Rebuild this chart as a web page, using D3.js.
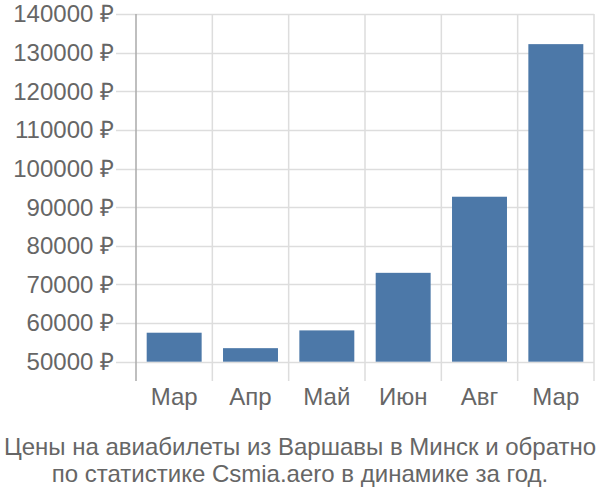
<!DOCTYPE html>
<html><head><meta charset="utf-8">
<script src="https://cdn.jsdelivr.net/npm/d3@7"></script>
<style>body{margin:0;background:#fff;}svg{display:block;font-family:"Liberation Sans",Arial,sans-serif;}</style>
</head><body>
<svg id="c" width="600" height="500"></svg>
<script>
const categories = ["Мар","Апр","Май","Июн","Авг","Мар"];
const values = [57500, 53500, 58100, 73000, 92700, 132200];
const yTicks = [50000,60000,70000,80000,90000,100000,110000,120000,130000,140000];
const titleLines = ["Цены на авиабилеты из Варшавы в Минск и обратно","по статистике Csmia.aero в динамике за год."];

(function(){
const svg = d3.select("#c");
const mL = 136, mR = 594, mT = 14, mB = 381;
const x = d3.scaleBand().domain(d3.range(categories.length)).range([mL, mR]).paddingInner(0.28).paddingOuter(0.14);
const y = d3.scaleLinear().domain([45000, 140000]).range([mB, mT]);
const textColor = "#666";
const fs = 24;

svg.append("g").selectAll("line").data(yTicks).join("line")
  .attr("x1", mL - 20).attr("x2", mR)
  .attr("y1", d => Math.round(y(d)) + 0.5).attr("y2", d => Math.round(y(d)) + 0.5)
  .attr("stroke", "#ddd").attr("stroke-width", 1.5);

const bounds = d3.range(categories.length + 1).map(i => mL + i * x.step());
svg.append("g").selectAll("line").data(bounds.slice(1)).join("line")
  .attr("x1", d => d).attr("x2", d => d)
  .attr("y1", mT).attr("y2", mB)
  .attr("stroke", "#ddd").attr("stroke-width", 1.5);

svg.append("line").attr("x1", mL).attr("x2", mL).attr("y1", mT).attr("y2", mB)
  .attr("stroke", "#aaa").attr("stroke-width", 1.5);

svg.append("g").selectAll("text").data(yTicks).join("text")
  .attr("x", 114).attr("y", d => y(d)).attr("dy", "0.35em")
  .attr("text-anchor", "end").attr("fill", textColor).attr("font-size", fs)
  .text(d => d + " ₽");

svg.append("g").selectAll("rect").data(values).join("rect")
  .attr("x", (d, i) => x(i)).attr("width", x.bandwidth())
  .attr("y", d => y(d)).attr("height", d => y(50000) - y(d))
  .attr("fill", "#4c78a8");

svg.append("g").selectAll("text").data(categories).join("text")
  .attr("x", (d, i) => x(i) + x.bandwidth() / 2).attr("y", 397).attr("dy", "0.35em")
  .attr("text-anchor", "middle").attr("fill", textColor).attr("font-size", fs)
  .text(d => d);

svg.append("g").selectAll("text").data(titleLines).join("text")
  .attr("x", 300).attr("y", (d, i) => 447 + i * 27).attr("dy", "0.35em")
  .attr("text-anchor", "middle").attr("fill", textColor).attr("font-size", fs)
  .text(d => d);
})();
</script>
</body></html>
